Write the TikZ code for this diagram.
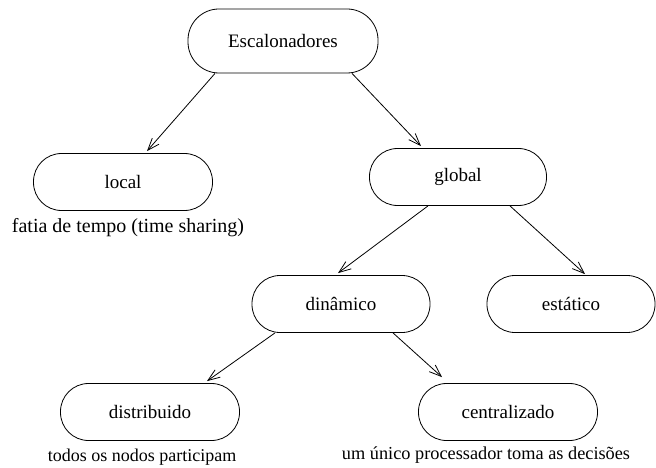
\documentclass[tikz,border=0pt]{standalone}
\usepackage{fontspec}
\setmainfont{Liberation Serif}
\usetikzlibrary{arrows.meta}
\begin{document}
\begin{tikzpicture}[x=1pt,y=1pt,
  box/.style={draw, line width=0.8pt, rounded corners=28pt, inner sep=0pt,
    minimum width=179pt, minimum height=57pt, font=\fontsize{19}{21}\selectfont},
  note/.style={inner sep=0pt, font=\fontsize{18.3}{21}\selectfont},
  link/.style={line width=0.8pt, -{Straight Barb[length=12pt,width=9pt,line width=0.8pt]}}]
\useasboundingbox (0,0) rectangle (656,-468);

% tree of schedulers
\node[box, minimum width=190pt, minimum height=64pt, rounded corners=31pt] (esc) at (283,-41) {Escalonadores};
\node[box] (loc) at (123,-182) {local};
\node[box, minimum width=177pt] (glo) at (458,-177) {global};
\node[box, minimum width=178pt] (din) at (341,-304) {dinâmico};
\node[box, minimum width=168pt] (est) at (571,-304) {estático};
\node[box] (dis) at (150,-412) {distribuido};
\node[box] (cen) at (508,-412) {centralizado};

% remarks under the leaves
\node[note, font=\fontsize{20}{22}\selectfont] (n1) at (128,-228) {fatia de tempo (time sharing)};
\node[note, font=\fontsize{18}{21}\selectfont] (n2) at (142,-457) {todos os nodos participam};
\node[note] (n3) at (486,-455) {um único processador toma as decisões};

% connectors
\draw[link] ([xshift=-68pt]esc.south) -- ([xshift=24pt,yshift=2pt]loc.north);
\draw[link] ([xshift=69pt]esc.south) -- ([xshift=-37pt,yshift=2pt]glo.north);
\draw[link] ([xshift=-30pt]glo.south) -- ([xshift=-3pt,yshift=2pt]din.north);
\draw[link] ([xshift=52pt]glo.south) -- ([xshift=14pt,yshift=1pt]est.north);
\draw[link] ([xshift=-66pt]din.south) -- ([xshift=57pt,yshift=2pt]dis.north);
\draw[link] ([xshift=52pt]din.south) -- ([xshift=-66pt,yshift=6pt]cen.north);
\end{tikzpicture}
\end{document}
